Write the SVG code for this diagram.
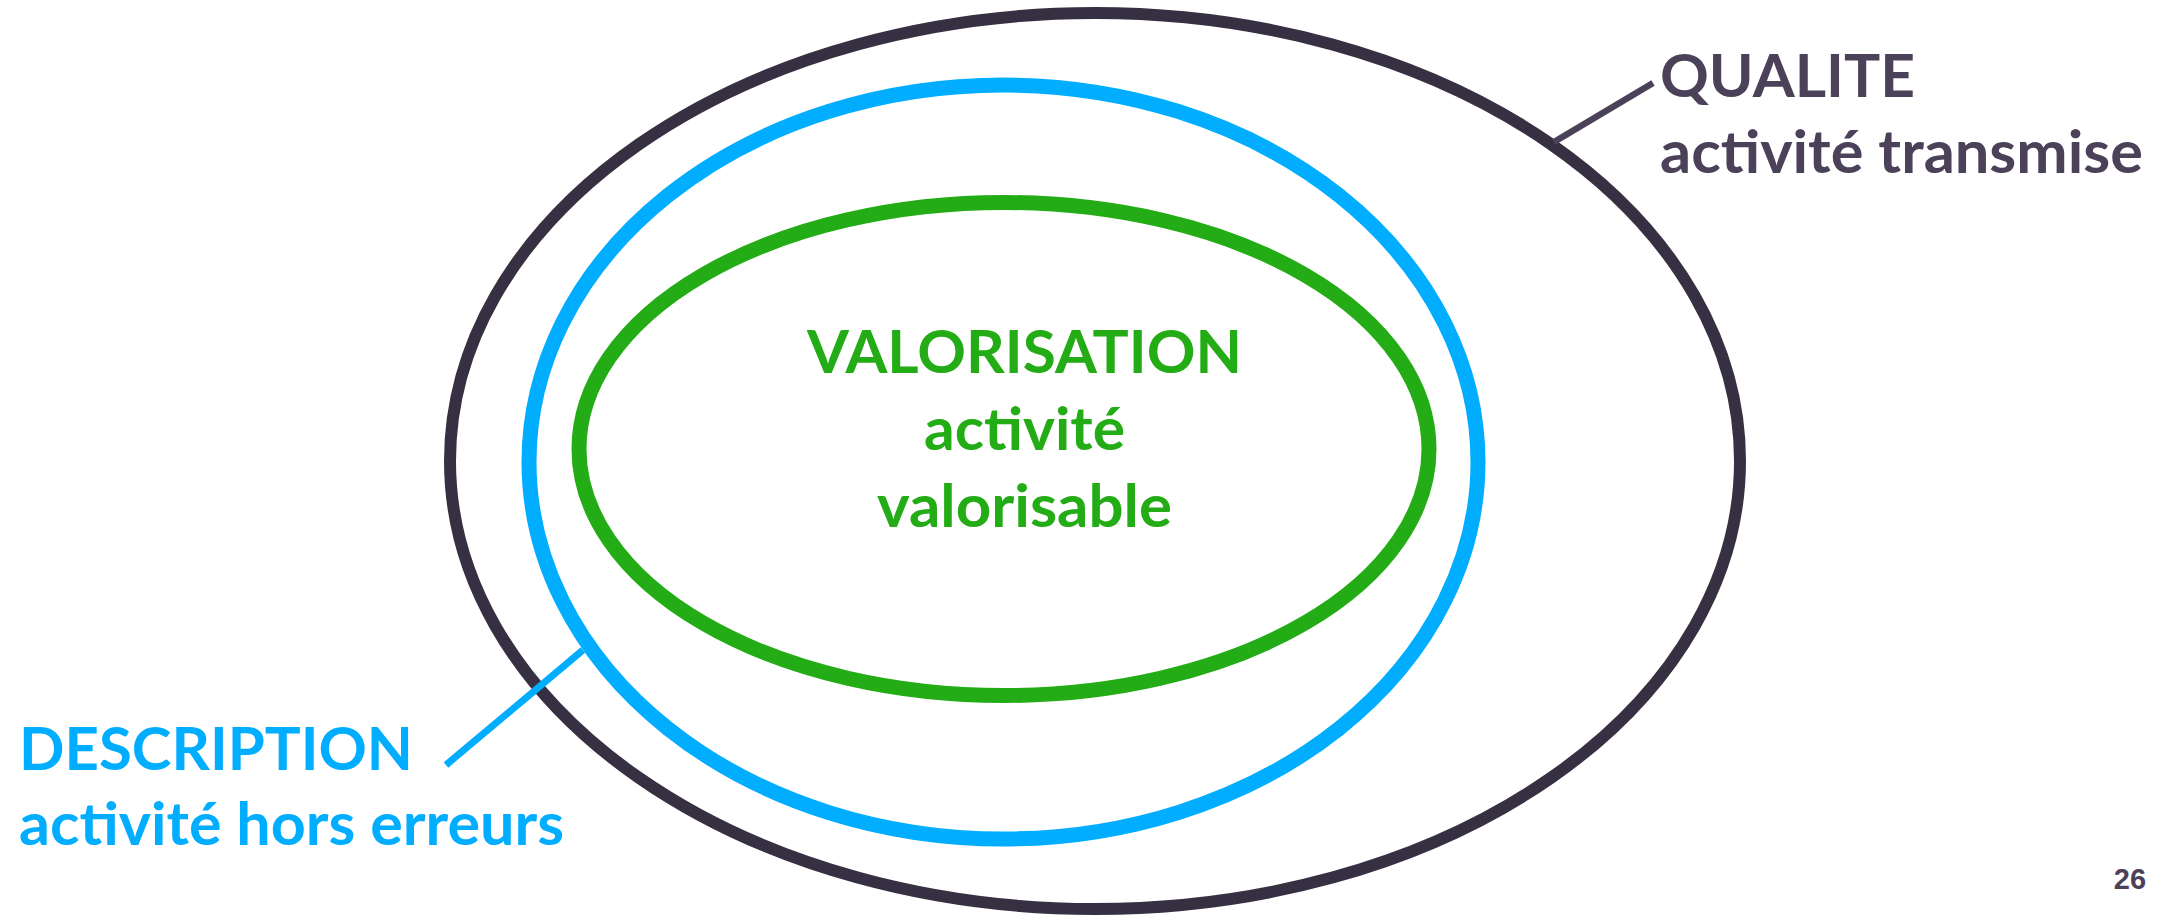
<svg xmlns="http://www.w3.org/2000/svg" width="2182" height="916" viewBox="0 0 2182 916">
<style>
.ring{fill:none}
.t{font-family:Lato,"Open Sans","Noto Sans",sans-serif;font-weight:700;font-size:60px}
.dark{fill:#4b4259}
.blue{fill:#00adff}
.green{fill:#23ac15}
</style>
<rect width="2182" height="916" fill="#ffffff"/>
<g id="qualite">
<ellipse class="ring" cx="1095" cy="461" rx="645" ry="448" stroke="#373042" stroke-width="12"/>
<text class="t dark" x="1660" y="97" textLength="255" lengthAdjust="spacingAndGlyphs">QUALITE</text>
<text class="t dark" x="1660" y="173" textLength="483" lengthAdjust="spacingAndGlyphs">activité transmise</text>
</g>
<g id="description">
<ellipse class="ring" cx="1003.5" cy="462" rx="474.5" ry="377" stroke="#00adff" stroke-width="15"/>
<text class="t blue" x="19" y="770" textLength="394" lengthAdjust="spacingAndGlyphs">DESCRIPTION</text>
<text class="t blue" x="19" y="845" textLength="545" lengthAdjust="spacingAndGlyphs">activité hors erreurs</text>
</g>
<g id="valorisation">
<ellipse class="ring" cx="1004" cy="449" rx="425" ry="246.5" stroke="#23ac15" stroke-width="15"/>
<text class="t green" x="807" y="373" textLength="435" lengthAdjust="spacingAndGlyphs">VALORISATION</text>
<text class="t green" x="924" y="450" textLength="201" lengthAdjust="spacingAndGlyphs">activité</text>
<text class="t green" x="877" y="527" textLength="295" lengthAdjust="spacingAndGlyphs">valorisable</text>
</g>
<g id="connectors">
<line x1="1554" y1="142" x2="1653" y2="83" stroke="#4b4259" stroke-width="6.5"/>
<line x1="446" y1="765" x2="583" y2="650" stroke="#00adff" stroke-width="7"/>
</g>
<g id="page">
<text x="2130" y="889" text-anchor="middle" font-family="Liberation Sans, Arial, sans-serif" font-weight="bold" font-size="29" fill="#4b4259">26</text>
</g>
</svg>
